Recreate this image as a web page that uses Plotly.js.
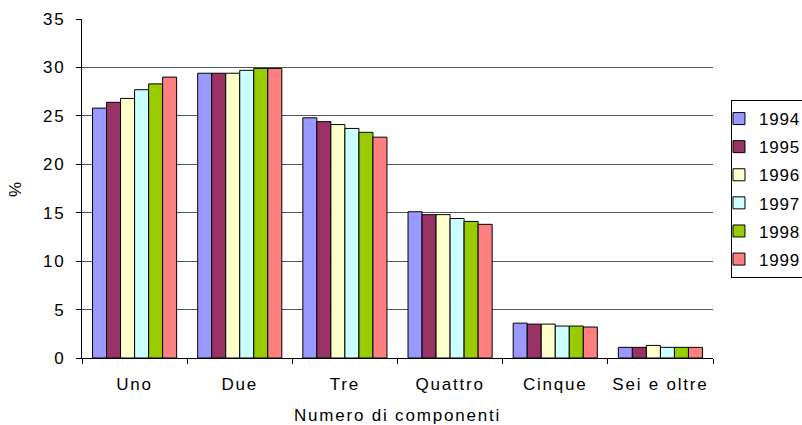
<!DOCTYPE html>
<html>
<head>
<meta charset="utf-8">
<script src="https://cdn.plot.ly/plotly-3.0.1.min.js"></script>
<style>
  html, body { margin: 0; padding: 0; background: #fff; }
  #chart { width: 802px; height: 425px; }
  /* wide, spaced-out lettering used throughout the chart */
  .main-svg text { letter-spacing: 1.8px; }
  .main-svg .legend text { letter-spacing: 0.8px; }
</style>
</head>
<body>
<div id="chart"></div>
<script>
// Household size categories (number of members)
const categories = ["Uno", "Due", "Tre", "Quattro", "Cinque", "Sei e oltre"];

// Share of households (%) by year
const years = ["1994", "1995", "1996", "1997", "1998", "1999"];
const v1994 = [25.8, 29.4, 24.8, 15.1, 3.6, 1.1];
const v1995 = [26.4, 29.4, 24.4, 14.8, 3.5, 1.1];
const v1996 = [26.8, 29.4, 24.1, 14.8, 3.5, 1.3];
const v1997 = [27.7, 29.7, 23.7, 14.4, 3.3, 1.1];
const v1998 = [28.3, 29.9, 23.3, 14.1, 3.3, 1.1];
const v1999 = [29.0, 29.9, 22.8, 13.8, 3.2, 1.1];
const seriesValues = [v1994, v1995, v1996, v1997, v1998, v1999];

const colors = ["#9999FF", "#993366", "#FFFFCC", "#CCFFFF", "#99CC00", "#FF8080"];

const FONT = "'Liberation Sans', Arial, sans-serif";

const traces = years.map((yr, i) => ({
  type: "bar",
  name: yr,
  x: categories,
  y: seriesValues[i],
  legendgroup: yr,
  marker: { color: colors[i], line: { color: "#000000", width: 1 } },
  hoverinfo: "x+y+name"
}));

const layout = {
  width: 802,
  height: 425,
  paper_bgcolor: "#ffffff",
  plot_bgcolor: "#ffffff",
  font: { family: FONT, size: 17, color: "#000000" },
  margin: { l: 82, r: 89, t: 19, b: 67, autoexpand: false },
  barmode: "group",
  bargap: 0.2,
  bargroupgap: 0,
  showlegend: true,
  legend: {
    x: 1.0285,
    y: 0.761,
    xanchor: "left",
    yanchor: "top",
    bordercolor: "#000000",
    borderwidth: 1,
    bgcolor: "#ffffff",
    font: { family: FONT, size: 17, color: "#000000" },
    traceorder: "grouped",
    tracegroupgap: 3,
    indentation: -13
  },
  xaxis: {
    type: "category",
    showline: true,
    linecolor: "#000000",
    linewidth: 1,
    ticks: "outside",
    tickson: "boundaries",
    ticklen: 5,
    tickcolor: "#000000",
    showgrid: false,
    zeroline: false,
    tickfont: { family: FONT, size: 17 },
    ticklabelstandoff: 11,
    automargin: false,
    title: { text: "Numero di componenti", font: { family: FONT, size: 17 }, standoff: 16 }
  },
  yaxis: {
    range: [0, 35],
    dtick: 5,
    tick0: 0,
    showline: true,
    linecolor: "#000000",
    linewidth: 1,
    ticks: "outside",
    ticklen: 5,
    tickcolor: "#000000",
    showgrid: true,
    gridcolor: "#555555",
    gridwidth: 1,
    zeroline: false,
    tickfont: { family: FONT, size: 17 },
    ticklabelstandoff: 7,
    automargin: false,
    title: { text: "%", font: { family: FONT, size: 17 }, standoff: 20 }
  }
};

Plotly.newPlot("chart", traces, layout, { displayModeBar: false, staticPlot: true });
</script>
</body>
</html>
